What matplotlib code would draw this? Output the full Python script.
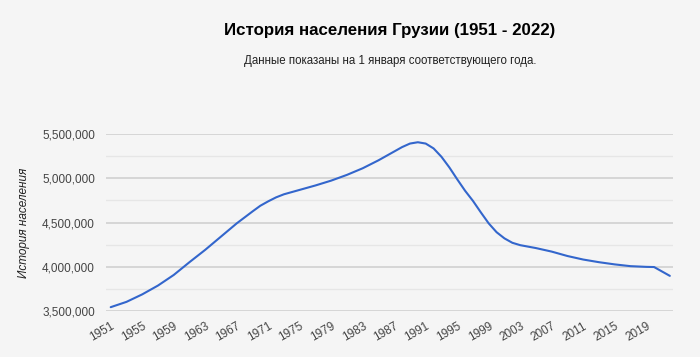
import matplotlib.pyplot as plt
from matplotlib.ticker import FuncFormatter, MultipleLocator

# Население Грузии на 1 января (оценка по графику)
years = [1951, 1953, 1955, 1957, 1959, 1961, 1963, 1965, 1967, 1969,
         1970, 1971, 1972, 1973, 1975, 1977, 1979, 1981, 1983, 1985,
         1986, 1987, 1988, 1989, 1990, 1991, 1992, 1993, 1994, 1995,
         1996, 1997, 1998, 1999, 2000, 2001, 2002, 2003, 2005, 2007,
         2009, 2011, 2013, 2015, 2017, 2019, 2020, 2022]
population = [3540000, 3600000, 3685000, 3785000, 3905000, 4050000, 4190000, 4340000, 4490000, 4625000,
              4690000, 4740000, 4785000, 4820000, 4870000, 4920000, 4975000, 5040000, 5115000, 5205000,
              5255000, 5305000, 5355000, 5395000, 5410000, 5395000, 5340000, 5245000, 5125000, 4990000,
              4860000, 4745000, 4615000, 4490000, 4390000, 4320000, 4270000, 4243000, 4210000, 4170000,
              4120000, 4080000, 4050000, 4025000, 4005000, 3997000, 3995000, 3895000]
tick_years = list(range(1951, 2020, 4))

title = "История населения Грузии (1951 - 2022)"
subtitle = "Данные показаны на 1 января соответствующего года."
ylabel = "История населения"

plt.rcParams['font.family'] = ['Liberation Sans', 'DejaVu Sans']
bg = "#f5f5f5"

fig = plt.figure(figsize=(7, 3.57), dpi=100, facecolor=bg)
ax = fig.add_axes([0.1514, 0.1297, 0.81, 0.4941], facecolor=bg)

ax.plot(years, population, color="#3366cc", linewidth=1.5,
        solid_joinstyle="round", solid_capstyle="round", zorder=3)

ax.set_xlim(1950.4, 2022.4)
ax.set_ylim(3500000, 5500000)

ax.yaxis.set_major_locator(MultipleLocator(500000))
ax.yaxis.set_minor_locator(MultipleLocator(250000))
ax.yaxis.set_major_formatter(FuncFormatter(lambda v, p: f"{int(v):,}"))
ax.grid(which="major", axis="y", color="#d0d0d0", linewidth=1.2)
ax.grid(which="minor", axis="y", color="#e6e6e6", linewidth=1.0)
ax.set_axisbelow(True)

ax.set_xticks(tick_years)
ax.set_xticklabels([str(y) for y in tick_years], rotation=30, ha="right",
                   rotation_mode="anchor")

for s in ax.spines.values():
    s.set_visible(False)
ax.tick_params(axis="both", which="both", length=0, labelsize=8.5, labelcolor="#444444")
ax.tick_params(axis="y", pad=8)
ax.tick_params(axis="x", pad=7)

ax.set_ylabel(ylabel, fontsize=8.5, style="italic", color="#222222")
ax.yaxis.set_label_coords(-0.134, 0.5)

fig.text(0.557, 1 - 31 / 357, title, ha="center", va="center",
         fontsize=12.2, fontweight="bold", color="#000000")
fig.text(0.557, 1 - 61 / 357, subtitle, ha="center", va="center",
         fontsize=8.3, color="#222222")

fig.savefig("out.png", dpi=100, facecolor=bg)
